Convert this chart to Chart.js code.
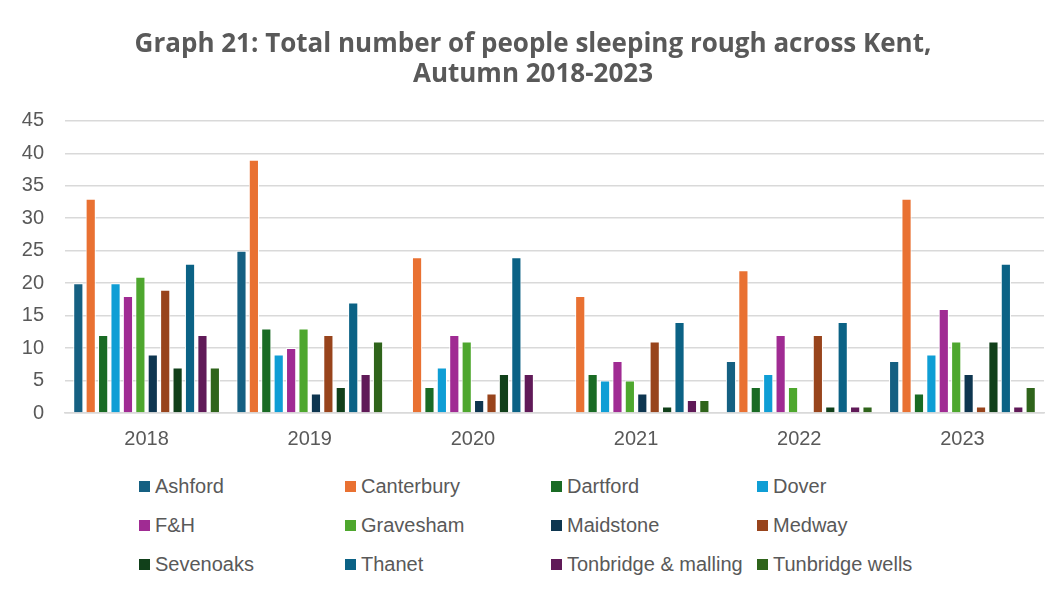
<!DOCTYPE html>
<html>
<head>
<meta charset="utf-8">
<script src="https://cdn.jsdelivr.net/npm/chart.js@4"></script>
<style>
  body { margin: 0; background: #fff; font-family: "Liberation Sans", Arial, sans-serif; }
  #wrap { position: relative; width: 1062px; height: 595px; }
  #chartBox { position: absolute; left: 22px; top: 0; width: 1040px; height: 465px; }
  #legend { position: absolute; left: 139px; top: 474px; width: 900px;
    display: grid; grid-template-columns: 206px 206px 206px 220px; row-gap: 15px; }
  .item { display: flex; align-items: center; font-size: 20px; color: #595959; height: 24px; white-space: nowrap; }
  .sw { width: 11px; height: 11px; margin-right: 5px; flex: none; }
</style>
</head>
<body>
<div id="wrap">
  <div id="chartBox"><canvas id="roughChart"></canvas></div>
  <div id="legend"></div>
</div>
<script>
var years = ['2018', '2019', '2020', '2021', '2022', '2023'];
var districts = ['Ashford', 'Canterbury', 'Dartford', 'Dover', 'F&H', 'Gravesham',
  'Maidstone', 'Medway', 'Sevenoaks', 'Thanet', 'Tonbridge & malling', 'Tunbridge wells'];

// one array per district, values for 2018..2023
var ashford    = [20, 25, 0, 0, 8, 8];
var canterbury = [33, 39, 24, 18, 22, 33];
var dartford   = [12, 13, 4, 6, 4, 3];
var dover      = [20, 9, 7, 5, 6, 9];
var fandh      = [18, 10, 12, 8, 12, 16];
var gravesham  = [21, 13, 11, 5, 4, 11];
var maidstone  = [9, 3, 2, 3, 0, 6];
var medway     = [19, 12, 3, 11, 12, 1];
var sevenoaks  = [7, 4, 6, 1, 1, 11];
var thanet     = [23, 17, 24, 14, 14, 23];
var tonbridge  = [12, 6, 6, 2, 1, 1];
var tunbridge  = [7, 11, 0, 2, 1, 4];

var yTicks = [0, 5, 10, 15, 20, 25, 30, 35, 40, 45];

var seriesValues = [ashford, canterbury, dartford, dover, fandh, gravesham,
  maidstone, medway, sevenoaks, thanet, tonbridge, tunbridge];
var chartColors = ['#156082', '#E97132', '#196B24', '#0F9ED5', '#A02B93', '#4EA72E',
  '#0E3650', '#98441C', '#11401A', '#0B6285', '#601A58', '#2F641B'];

var datasets = districts.map(function (name, i) {
  return {
    label: name,
    data: seriesValues[i],
    backgroundColor: chartColors[i],
    borderColor: '#ffffff',
    borderWidth: 1,
    categoryPercentage: 0.913,
    barPercentage: 0.82
  };
});

var ctx = document.getElementById('roughChart').getContext('2d');
var roughChart = new Chart(ctx, {
  type: 'bar',
  data: { labels: years, datasets: datasets },
  options: {
    responsive: true,
    maintainAspectRatio: false,
    animation: false,
    layout: { padding: { left: 0, right: 18, top: 0, bottom: 0 } },
    plugins: {
      legend: { display: false },
      tooltip: { enabled: false },
      title: {
        display: true,
        text: ['Graph 21: Total number of people sleeping rough across Kent,', 'Autumn 2018-2023'],
        color: '#595959',
        font: { family: 'Open Sans', size: 26, weight: 'bold', lineHeight: 1.15 },
        padding: { top: 30, bottom: 31 }
      }
    },
    scales: {
      x: {
        grid: { display: false, drawTicks: false },
        border: { color: '#d9d9d9', width: 1.5 },
        ticks: { color: '#595959', font: { family: 'Liberation Sans', size: 20 }, padding: 14 }
      },
      y: {
        min: 0,
        max: 45,
        afterBuildTicks: function (axis) {
          axis.ticks = yTicks.map(function (v) { return { value: v }; });
        },
        afterFit: function (axis) { axis.width = 43; },
        grid: { color: '#d9d9d9', lineWidth: 1.5, drawTicks: false },
        border: { display: false },
        ticks: { color: '#595959', font: { family: 'Liberation Sans', size: 20 }, padding: 21 }
      }
    }
  }
});

// legend laid out in four columns like the original
var legendBox = document.getElementById('legend');
roughChart.data.datasets.forEach(function (ds) {
  var item = document.createElement('div');
  item.className = 'item';
  var sw = document.createElement('span');
  sw.className = 'sw';
  sw.style.background = ds.backgroundColor;
  item.appendChild(sw);
  item.appendChild(document.createTextNode(ds.label));
  legendBox.appendChild(item);
});
</script>
</body>
</html>
